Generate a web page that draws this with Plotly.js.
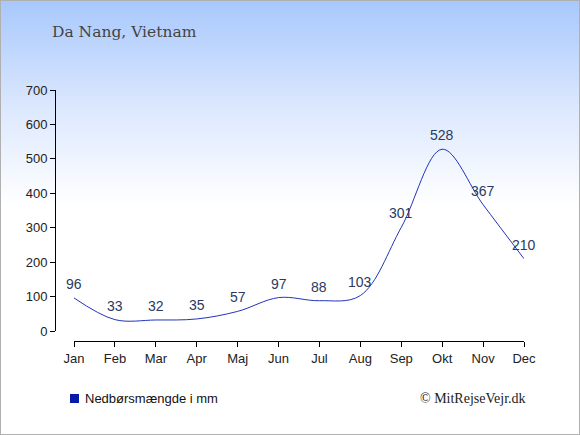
<!DOCTYPE html>
<html><head><meta charset="utf-8">
<script src="https://cdn.plot.ly/plotly-3.0.1.min.js"></script>
<style>
html,body{margin:0;padding:0;}
#wrap{position:relative;width:578px;height:433px;border:1px solid #b0b0b0;background:linear-gradient(to bottom,#a8c8fc 0px,#dde9fe 110px,#ffffff 205px,#ffffff 433px);overflow:hidden;}
#chart{position:absolute;left:-1px;top:-1px;width:580px;height:435px;}
</style></head>
<body><div id="wrap"><div id="chart"></div></div>
<script>
const months = ["Jan","Feb","Mar","Apr","Maj","Jun","Jul","Aug","Sep","Okt","Nov","Dec"];
const rain = [96,33,32,35,57,97,88,103,301,528,367,210];
const yTicks = [0,100,200,300,400,500,600,700];
const titleText = "Da Nang, Vietnam";
const legendText = "Nedbørsmængde i mm";
const creditText = "© MitRejseVejr.dk";

const W=580,H=435,L=55,R=56,T=90,B=94;
const pw=W-L-R, ph=H-T-B;
const fx=px=>(px-L)/pw, fy=py=>(H-B-py)/ph;
const labelFont={family:'Liberation Sans, Arial, sans-serif',size:14,color:'#2a3a60'};

const trace={x:months.map((m,i)=>i),y:rain,type:'scatter',mode:'lines',
 line:{shape:'spline',smoothing:1,color:'#2233bb',width:1},
 hoverinfo:'skip',showlegend:false,cliponaxis:false};

const valueLabels=rain.map((v,i)=>({x:i,y:v,xref:'x',yref:'y',text:String(v),showarrow:false,
 xanchor:'center',yanchor:'middle',yshift:14,font:labelFont}));

const layout={width:W,height:H,margin:{l:L,r:R,t:T,b:B},
 paper_bgcolor:'rgba(0,0,0,0)',plot_bgcolor:'rgba(0,0,0,0)',showlegend:false,
 xaxis:{domain:[fx(74),1],range:[0,11],tickmode:'array',tickvals:months.map((m,i)=>i),ticktext:months,
   showline:true,linecolor:'#000',linewidth:1,ticks:'outside',ticklen:5,tickcolor:'#000',
   showgrid:false,zeroline:false,anchor:'free',position:0,
   tickfont:{family:'Liberation Sans, Arial, sans-serif',size:13,color:'#222'}},
 yaxis:{domain:[fy(331),1],range:[0,700],tickmode:'array',tickvals:yTicks,
   showline:true,linecolor:'#000',linewidth:1,ticks:'outside',ticklen:5,tickcolor:'#000',
   showgrid:false,zeroline:false,anchor:'free',position:0,
   tickfont:{family:'Liberation Sans, Arial, sans-serif',size:13,color:'#222'}},
 shapes:[{type:'rect',xref:'paper',yref:'paper',x0:fx(70),x1:fx(79),y0:fy(403),y1:fy(394),
   fillcolor:'#0a1aa8',line:{width:0}}],
 annotations:valueLabels.concat([
  {text:titleText,xref:'paper',yref:'paper',x:fx(50),y:fy(32),xanchor:'left',yanchor:'middle',showarrow:false,
   font:{family:'DejaVu Serif, serif',size:15.5,color:'#444'}},
  {text:legendText,xref:'paper',yref:'paper',x:fx(83),y:fy(398.5),xanchor:'left',yanchor:'middle',showarrow:false,
   font:{family:'Liberation Sans, Arial, sans-serif',size:13,color:'#111'}},
  {text:creditText,xref:'paper',yref:'paper',x:fx(528),y:fy(398),xanchor:'right',yanchor:'middle',showarrow:false,
   font:{family:'Liberation Serif, serif',size:14,color:'#222'}}
 ])};
Plotly.newPlot('chart',[trace],layout,{displayModeBar:false,staticPlot:true});
</script></body></html>
